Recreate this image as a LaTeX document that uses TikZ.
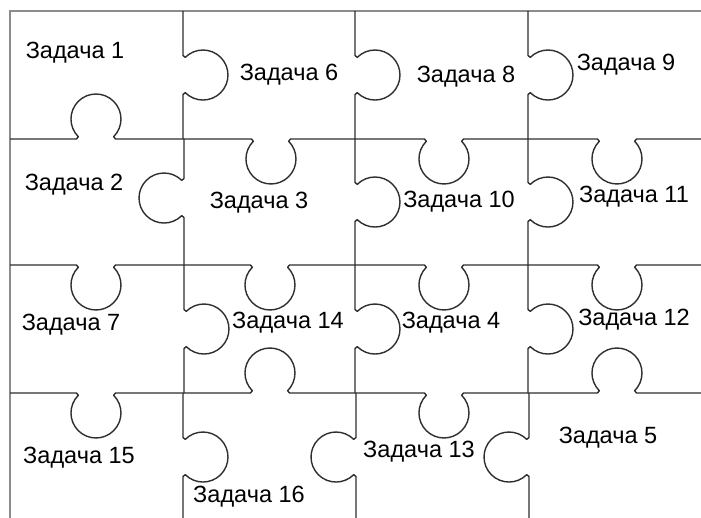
\documentclass[tikz,border=0pt]{standalone}
\usepackage{fontspec}
\setmainfont{Liberation Sans}
\usepackage{tikz}
% horizontal cut: left x, right x, y, knob x, knob side (1 down, -1 up)
\newcommand{\hcut}[5]{\draw[cut,shift={(#4,#3)},yscale=#5] ({#1-#4},0) -- (-19.5,0) -- (-17.7,2.3) arc[start angle=225,end angle=-45,radius=25] -- (19.5,0) -- ({#2-#4},0);}
% vertical cut: top y, bottom y, x, knob y, knob side (1 right, -1 left)
\newcommand{\vcut}[5]{\draw[cut,shift={(#3,#4)},rotate=90,yscale=#5] ({#4-#2},0) -- (-19.5,0) -- (-17.7,2.3) arc[start angle=225,end angle=-45,radius=25] -- (19.5,0) -- ({#4-#1},0);}

\begin{document}
\begin{tikzpicture}[x=1pt,y=-1pt,
		cut/.style={line width=1.4pt,color=black!82,line join=round},
		frame/.style={line width=1.8pt,color=black!45},
		lbl/.style={font=\fontsize{23.5}{27}\selectfont,inner sep=0pt}]
			\useasboundingbox (0,0) rectangle (701,518);
			\draw[frame] (10,518) -- (10,11) -- (701,11);
			% rows
			\hcut{10}{183}{139}{96}{-1}
			\hcut{183}{355}{139}{271}{1}
			\hcut{355}{527}{139}{444}{1}
			\hcut{527}{701}{139}{617}{1}
			\hcut{10}{183}{265}{96}{1}
			\hcut{183}{355}{265}{270}{1}
			\hcut{355}{527}{265}{444}{1}
			\hcut{527}{701}{265}{617}{1}
			\hcut{10}{183}{393}{96}{1}
			\hcut{183}{355}{393}{270}{-1}
			\hcut{355}{527}{393}{444}{1}
			\hcut{527}{701}{393}{617}{-1}
			% columns
			\vcut{11}{139}{183}{75}{1}
			\vcut{139}{265}{184}{198}{-1}
			\vcut{265}{393}{184}{329}{1}
			\vcut{393}{518}{183}{457}{1}
			\vcut{11}{139}{355}{75}{1}
			\vcut{139}{265}{355}{202}{1}
			\vcut{265}{393}{355}{329}{1}
			\vcut{393}{518}{356}{457}{-1}
			\vcut{11}{139}{528}{75}{1}
			\vcut{139}{265}{528}{202}{1}
			\vcut{265}{393}{528}{329}{1}
			\vcut{393}{518}{529}{457}{-1}
			% tasks
			\node[lbl] (t1) at (75,53) {Задача 1};
			\node[lbl] (t6) at (289,75) {Задача 6};
			\node[lbl] (t8) at (466,77) {Задача 8};
			\node[lbl] (t9) at (626,65) {Задача 9};
			\node[lbl] (t2) at (74,185) {Задача 2};
			\node[lbl] (t3) at (259,203) {Задача 3};
			\node[lbl] (t10) at (459,202) {Задача 10};
			\node[lbl] (t11) at (634,197) {Задача 11};
			\node[lbl] (t7) at (71,325) {Задача 7};
			\node[lbl] (t14) at (288,323) {Задача 14};
			\node[lbl] (t4) at (451,323) {Задача 4};
			\node[lbl] (t12) at (634,320) {Задача 12};
			\node[lbl] (t15) at (79,458) {Задача 15};
			\node[lbl] (t16) at (249,497) {Задача 16};
			\node[lbl] (t13) at (419,452) {Задача 13};
			\node[lbl] (t5) at (608,438) {Задача 5};
		\end{tikzpicture}
\end{document}
